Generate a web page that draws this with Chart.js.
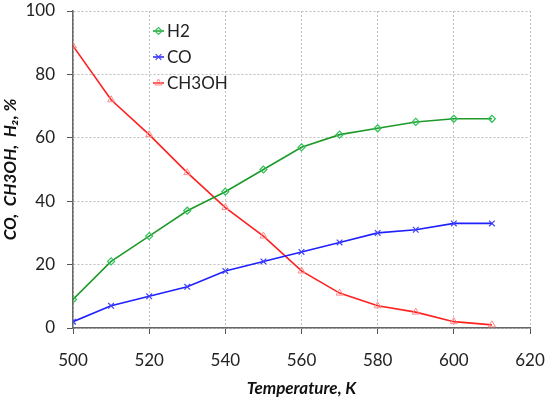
<!DOCTYPE html>
<html lang="en">
<head>
    <meta charset="UTF-8">
    <title>Gas composition vs temperature</title>
    <script src="https://cdn.jsdelivr.net/npm/chart.js"></script>
    <style>
        html, body { margin: 0; padding: 0; background: #fff; }
        #wrap { width: 550px; height: 399px; }
    </style>
</head>
<body>
<div id="wrap"><canvas id="chart"></canvas></div>
<script>
const temperature = [500, 510, 520, 530, 540, 550, 560, 570, 580, 590, 600, 610];
const h2 = [9, 21, 29, 37, 43, 50, 57, 61, 63, 65, 66, 66];
const co = [2, 7, 10, 13, 18, 21, 24, 27, 30, 31, 33, 33];
const ch3oh = [89, 72, 61, 49, 38, 29, 18, 11, 7, 5, 2, 1];
const seriesNames = ["H2", "CO", "CH3OH"];

const FONT = "Lato, 'Open Sans', sans-serif";

function pts(ys) {
    return temperature.map((t, i) => ({ x: t, y: ys[i] }));
}

// legend drawn inside the plot, like the original
const insideLegend = {
    id: "insideLegend",
    afterDraw(chart) {
        const ctx = chart.ctx;
        const x0 = 153, y0 = 31, gap = 26;
        chart.data.datasets.forEach((ds, i) => {
            const y = y0 + i * gap;
            ctx.save();
            ctx.strokeStyle = ds.borderColor;
            ctx.lineWidth = 1.5;
            ctx.beginPath();
            ctx.moveTo(x0, y);
            ctx.lineTo(x0 + 11, y);
            ctx.stroke();
            ctx.strokeStyle = ds.pointBorderColor;
            ctx.fillStyle = "rgba(0,0,0,0)";
            ctx.lineWidth = ds.pointBorderWidth;
            Chart.helpers.drawPoint(ctx, {
                pointStyle: ds.pointStyle,
                radius: ds.pointRadius,
                borderWidth: ds.pointBorderWidth
            }, x0 + 5.5, y);
            ctx.restore();
            ctx.fillStyle = "#222";
            ctx.font = "17px " + FONT;
            ctx.textBaseline = "middle";
            ctx.fillText(seriesNames[i], x0 + 14, y + 1);
        });
    }
};

new Chart(document.getElementById("chart"), {
    type: "line",
    data: {
        datasets: [
            {
                label: seriesNames[0], data: pts(h2),
                borderColor: "#1e9a2a", borderWidth: 1.6,
                pointStyle: "rectRot", pointRadius: 3.5,
                pointBorderColor: "#2fc25a", pointBackgroundColor: "rgba(0,0,0,0)", pointBorderWidth: 1.2
            },
            {
                label: seriesNames[1], data: pts(co),
                borderColor: "#2020ff", borderWidth: 1.6,
                pointStyle: "crossRot", pointRadius: 4,
                pointBorderColor: "#4040ff", pointBackgroundColor: "rgba(0,0,0,0)", pointBorderWidth: 1.2
            },
            {
                label: seriesNames[2], data: pts(ch3oh),
                borderColor: "#ff2020", borderWidth: 1.6,
                pointStyle: "triangle", pointRadius: 4,
                pointBorderColor: "#ff8a8a", pointBackgroundColor: "rgba(0,0,0,0)", pointBorderWidth: 1
            }
        ]
    },
    options: {
        responsive: true,
        maintainAspectRatio: false,
        animation: false,
        layout: { padding: { top: 11, right: 20, left: 0, bottom: 0 } },
        plugins: { legend: { display: false }, tooltip: { enabled: false } },
        scales: {
            x: {
                type: "linear", min: 500, max: 620,
                ticks: { stepSize: 20, color: "#222", font: { size: 17, family: FONT }, padding: 16 },
                grid: { color: "#bdbdbd", tickColor: "#555", tickLength: 6 },
                border: { color: "#666", width: 1.5, dash: [2, 2] },
                title: { display: true, text: "Temperature, K", color: "#111",
                         font: { size: 17, family: FONT, weight: "bold", style: "italic" }, padding: { top: 0, bottom: 0 } },
                afterFit(scale) {
                    scale.height = 71;
                    scale.paddingLeft = 0;
                    scale.paddingRight = 0;
                }
            },
            y: {
                min: 0, max: 100,
                ticks: { stepSize: 20, color: "#222", font: { size: 17, family: FONT }, padding: 12 },
                grid: { color: "#bdbdbd", tickColor: "#555", tickLength: 6 },
                border: { color: "#666", width: 1.5, dash: [2, 2] },
                title: { display: true, text: "CO,  CH3OH,  H\u2082, %", color: "#111",
                         font: { size: 17, family: FONT, weight: "bold", style: "italic" }, padding: { top: 0, bottom: 2 } },
                afterFit(scale) {
                    scale.width = 73;
                    scale.paddingTop = 0;
                    scale.paddingBottom = 0;
                }
            }
        }
    },
    plugins: [insideLegend]
});
</script>
</body>
</html>
